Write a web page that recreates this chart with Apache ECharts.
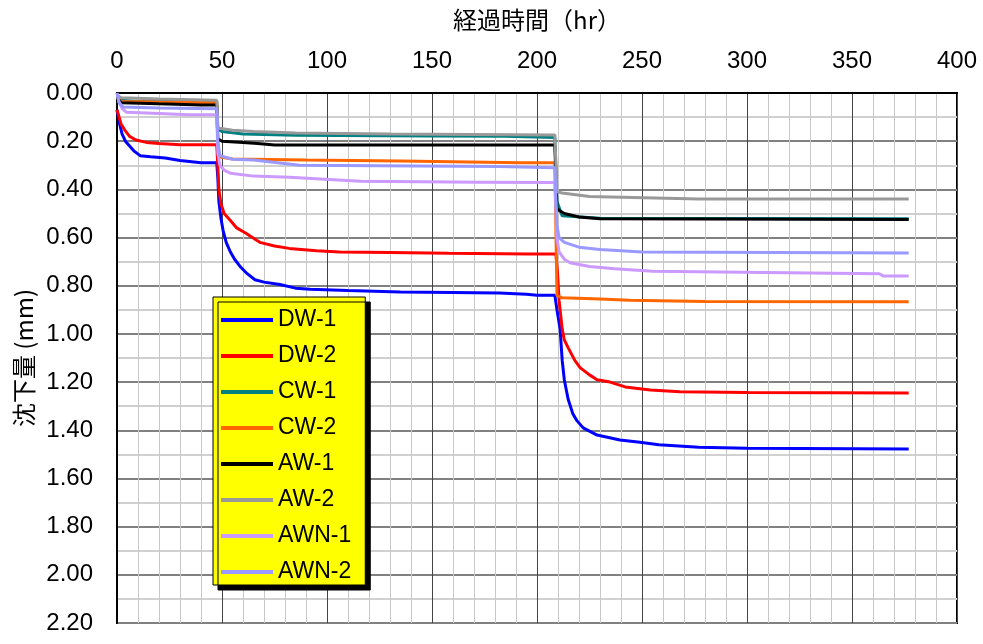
<!DOCTYPE html>
<html>
<head>
<meta charset="utf-8">
<script src="https://cdn.jsdelivr.net/npm/echarts@6/dist/echarts.min.js"></script>
<style>
html,body{margin:0;padding:0;background:#fff;}
#chart{width:983px;height:644px;}
</style>
</head>
<body>
<div id="chart"></div>
<script>
// ---- data: [elapsed hours, settlement mm] ----
const seriesNames = ['DW-1','DW-2','CW-1','CW-2','AW-1','AW-2','AWN-1','AWN-2'];
const seriesColors = ['#0000ff','#ff0000','#008080','#ff6600','#000000','#999999','#cc99ff','#9999ff'];
const xTicks = [0,50,100,150,200,250,300,350,400];
const yTicks = [0,0.2,0.4,0.6,0.8,1.0,1.2,1.4,1.6,1.8,2.0,2.2];

const DW1 = [[0,0.07],[1,0.12],[2.4,0.17],[4,0.2],[6,0.22],[8,0.24],[11,0.26],[16,0.265],[23,0.27],[30,0.28],[40,0.29],[47.5,0.29],
 [48,0.35],[48.5,0.45],[49.5,0.52],[50.5,0.57],[52,0.62],[54,0.66],[56,0.69],[58.6,0.72],[62,0.75],[65.7,0.775],[70,0.785],[77.6,0.795],[85,0.81],[92,0.815],[110,0.82],[135,0.826],[160,0.828],[182,0.83],[195,0.835],[200,0.84],[208.5,0.84],
 [209.5,0.9],[211,0.98],[212,1.11],[213,1.19],[214.8,1.27],[217,1.33],[219,1.36],[222,1.39],[228.6,1.42],[239.5,1.44],[249,1.45],[258,1.46],[277,1.47],[300,1.475],[377,1.478]];
const DW2 = [[0,0.07],[1,0.1],[2,0.13],[3.8,0.155],[6,0.18],[9,0.195],[14,0.205],[20,0.21],[30,0.215],[47.5,0.215],
 [48,0.3],[48.5,0.4],[49.5,0.46],[51,0.5],[53.8,0.527],[57,0.56],[61,0.58],[68,0.62],[75,0.635],[82,0.645],[95,0.655],[106,0.66],[130,0.662],[158,0.665],[196,0.668],[209,0.668],
 [209.8,0.75],[210.5,0.86],[212,0.98],[213,1.025],[215,1.06],[218,1.11],[220.5,1.14],[225,1.17],[228.6,1.19],[234.8,1.2],[242,1.22],[254,1.233],[268,1.24],[300,1.243],[377,1.245]];
const CW1 = [[0,0.02],[2,0.03],[10,0.035],[47.5,0.035],
 [48,0.15],[50,0.16],[60,0.17],[85,0.175],[150,0.178],[185,0.18],[208.5,0.185],
 [209.5,0.45],[212,0.51],[230,0.52],[377,0.522]];
const CW2 = [[0,0.02],[2,0.035],[47.5,0.04],
 [48,0.2],[48.5,0.265],[55,0.274],[90,0.278],[135,0.282],[192,0.29],[208.5,0.29],
 [209.5,0.84],[212,0.85],[230,0.855],[244,0.86],[280,0.865],[377,0.867]];
const AW1 = [[0,0.02],[2,0.04],[20,0.045],[40,0.05],[47.5,0.05],
 [48,0.19],[50,0.2],[60,0.205],[67,0.21],[75,0.216],[208.5,0.216],
 [209.5,0.48],[211,0.49],[213,0.5],[220,0.515],[230,0.522],[377,0.525]];
const AW2 = [[0,0.01],[2,0.02],[20,0.025],[47.5,0.03],
 [48,0.145],[55,0.155],[65,0.16],[85,0.166],[130,0.17],[208.5,0.174],
 [209.5,0.41],[212,0.415],[225,0.43],[277,0.44],[377,0.44]];
const AWN1 = [[0,0.0],[1,0.04],[2.5,0.065],[4.5,0.08],[20,0.085],[34,0.09],[47.5,0.09],
 [48,0.25],[49,0.3],[51,0.32],[54,0.333],[65,0.345],[82,0.35],[116,0.366],[173,0.37],[208.5,0.372],
 [209.5,0.6],[210.5,0.66],[213,0.69],[215.7,0.705],[225,0.72],[237,0.73],[255,0.74],[330,0.747],[363,0.75],[365,0.76],[377,0.76]];
const AWN2 = [[0,0.0],[1,0.04],[3,0.058],[20,0.062],[47.5,0.065],
 [48,0.2],[49,0.26],[55,0.275],[65,0.278],[87,0.3],[182,0.305],[208.5,0.31],
 [209.5,0.55],[210.5,0.6],[213,0.62],[220,0.64],[230,0.65],[250,0.66],[377,0.664]];
const seriesData = [DW1,DW2,CW1,CW2,AW1,AW2,AWN1,AWN2];

const FONT = "'Liberation Sans', Arial, sans-serif";
const CJK = "'Noto Sans CJK JP', sans-serif";
const chart = echarts.init(document.getElementById('chart'), null, {renderer:'canvas'});
chart.setOption({
  animation:false,
  backgroundColor:'#ffffff',
  grid:{left:117, right:26, top:93, bottom:21, show:true, borderColor:'#000', borderWidth:2, backgroundColor:'transparent'},
  xAxis:{
    type:'value', position:'top', min:xTicks[0], max:xTicks[xTicks.length-1], interval:50,
    name:'経過時間（hr）', nameLocation:'middle', nameGap:61,
    nameTextStyle:{fontFamily:CJK, fontSize:24, color:'#000'},
    axisLine:{show:true, lineStyle:{color:'#000', width:2}},
    axisTick:{show:false},
    axisLabel:{fontFamily:FONT, fontSize:24, color:'#000', margin:20},
    splitLine:{show:true, lineStyle:{color:'#444', width:1}},
    minorTick:{show:false, splitNumber:5},
    minorSplitLine:{show:true, lineStyle:{color:'#c8c8c8', width:1}}
  },
  yAxis:{
    type:'value', inverse:true, min:yTicks[0], max:yTicks[yTicks.length-1], interval:0.2,
    name:'沈下量 (mm)', nameLocation:'middle', nameGap:80, nameRotate:90,
    nameTextStyle:{fontFamily:CJK, fontSize:24, color:'#000'},
    axisLine:{show:true, lineStyle:{color:'#000', width:2}},
    axisTick:{show:false},
    axisLabel:{fontFamily:FONT, fontSize:24, color:'#000', margin:24, formatter:v=>v.toFixed(2)},
    splitLine:{show:true, lineStyle:{color:'#808080', width:2}},
    minorTick:{show:false, splitNumber:2},
    minorSplitLine:{show:true, lineStyle:{color:'#d0d0d0', width:2}}
  },
  legend:{
    orient:'vertical', left:213, top:297, icon:'rect',
    backgroundColor:'#ffff00', borderColor:'#000', borderWidth:1,
    shadowColor:'#000', shadowBlur:0.01, shadowOffsetX:5, shadowOffsetY:5,
    padding:[10,14,0,8], itemGap:10, itemWidth:52, itemHeight:4,
    textStyle:{fontFamily:FONT, fontSize:23, color:'#000', lineHeight:26},
    data:seriesNames
  },
  series:seriesNames.map((n,i)=>({
    name:n, type:'line', data:seriesData[i], symbol:'none', showSymbol:false,
    lineStyle:{color:seriesColors[i], width:3}, itemStyle:{color:seriesColors[i]},
    z:2+i
  }))
});
</script>
</body>
</html>
